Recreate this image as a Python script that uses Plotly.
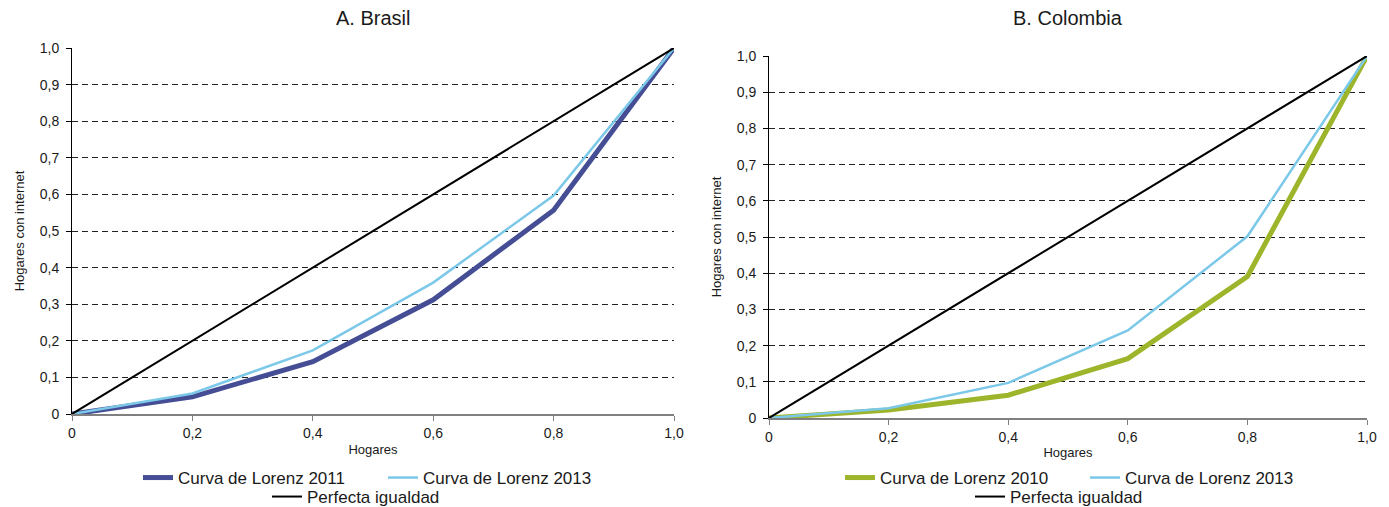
import plotly.graph_objects as go

x_vals = [0, 0.2, 0.4, 0.6, 0.8, 1.0]
brasil_2011 = [0, 0.047, 0.143, 0.312, 0.557, 1.0]
brasil_2013 = [0, 0.056, 0.174, 0.359, 0.597, 1.0]
colombia_2010 = [0, 0.022, 0.063, 0.164, 0.391, 1.0]
colombia_2013 = [0, 0.027, 0.097, 0.242, 0.502, 1.0]
igualdad = [0, 0.2, 0.4, 0.6, 0.8, 1.0]

y_ticks = [0, 0.1, 0.2, 0.3, 0.4, 0.5, 0.6, 0.7, 0.8, 0.9, 1.0]
y_ticktext = ["0", "0,1", "0,2", "0,3", "0,4", "0,5", "0,6", "0,7", "0,8", "0,9", "1,0"]
x_ticks = [0, 0.2, 0.4, 0.6, 0.8, 1.0]
x_ticktext = ["0", "0,2", "0,4", "0,6", "0,8", "1,0"]

NAVY = "#454e95"
LIGHT = "#7cc8e9"
GREEN = "#9cb52b"
BLACK = "#000000"
FONT = "Liberation Sans, Arial, sans-serif"
TXT = "#1a1a1a"

fig = go.Figure()

# Brasil
fig.add_trace(go.Scatter(x=x_vals, y=brasil_2011, mode="lines", name="Curva de Lorenz 2011",
                         line=dict(color=NAVY, width=5), xaxis="x", yaxis="y", legend="legend"))
fig.add_trace(go.Scatter(x=x_vals, y=brasil_2013, mode="lines", name="Curva de Lorenz 2013",
                         line=dict(color=LIGHT, width=2.5), xaxis="x", yaxis="y", legend="legend"))
fig.add_trace(go.Scatter(x=x_vals, y=igualdad, mode="lines", name="Perfecta igualdad",
                         line=dict(color=BLACK, width=2), xaxis="x", yaxis="y", legend="legend2"))
# Colombia
fig.add_trace(go.Scatter(x=x_vals, y=colombia_2010, mode="lines", name="Curva de Lorenz 2010",
                         line=dict(color=GREEN, width=5), xaxis="x2", yaxis="y2", legend="legend3"))
fig.add_trace(go.Scatter(x=x_vals, y=colombia_2013, mode="lines", name="Curva de Lorenz 2013",
                         line=dict(color=LIGHT, width=2.5), xaxis="x2", yaxis="y2", legend="legend3"))
fig.add_trace(go.Scatter(x=x_vals, y=igualdad, mode="lines", name="Perfecta igualdad",
                         line=dict(color=BLACK, width=2), xaxis="x2", yaxis="y2", legend="legend4"))

W, H = 1389, 507
ML, MR, MT, MB = 72, 22, 48, 89
PW = W - ML - MR
PH = H - MT - MB

def px_x(p):
    return (p - ML) / PW

def px_y(p):
    return (H - MB - p) / PH

def cx(p):
    return p / W

def cy(p):
    return 1 - p / H

xaxis_common = dict(range=[0, 1], tickvals=x_ticks, ticktext=x_ticktext, showgrid=False,
                    showline=True, linecolor="#808080", linewidth=2, ticks="outside",
                    ticklen=5, tickcolor="#808080", zeroline=False, automargin=False,
                    tickfont=dict(size=14, color=TXT, family=FONT),
                    title=dict(text="Hogares", font=dict(size=13, color=TXT, family=FONT), standoff=5))
yaxis_common = dict(range=[0, 1], tickvals=y_ticks, ticktext=y_ticktext, showgrid=True,
                    gridcolor="#222222", griddash="6px,4px", gridwidth=1,
                    showline=True, linecolor="#000", linewidth=1, ticks="outside",
                    ticklen=5, tickcolor="#000", zeroline=False, automargin=False,
                    ticklabelstandoff=4,
                    tickfont=dict(size=14, color=TXT, family=FONT),
                    title=dict(text="Hogares con internet", font=dict(size=13, color=TXT, family=FONT), standoff=12))

legend_font = dict(size=17, family=FONT, color=TXT)
leg_common = dict(orientation="h", xref="container", yref="container", xanchor="left",
                  yanchor="middle", font=legend_font, bgcolor="rgba(0,0,0,0)",
                  entrywidth=200, entrywidthmode="pixels")

fig.update_layout(
    width=W, height=H,
    margin=dict(l=ML, r=MR, t=MT, b=MB, autoexpand=False),
    paper_bgcolor="white", plot_bgcolor="white",
    font=dict(family=FONT, color=TXT),
    xaxis=dict(domain=[0, px_x(674)], anchor="y", **xaxis_common),
    yaxis=dict(domain=[px_y(414), px_y(48)], anchor="x", **yaxis_common),
    xaxis2=dict(domain=[px_x(769), 1], anchor="y2", **xaxis_common),
    yaxis2=dict(domain=[px_y(418), px_y(56)], anchor="x2", **yaxis_common),
    legend=dict(x=cx(138), y=cy(478), **leg_common),
    legend2=dict(x=cx(267), y=cy(497), **leg_common),
    legend3=dict(x=cx(840), y=cy(478), **leg_common),
    legend4=dict(x=cx(970), y=cy(497), **leg_common),
    annotations=[
        dict(text="A. Brasil", x=px_x(373), y=px_y(18), xref="paper", yref="paper",
             showarrow=False, font=dict(size=20, family=FONT, color=TXT), xanchor="center", yanchor="middle"),
        dict(text="B. Colombia", x=px_x(1068), y=px_y(18), xref="paper", yref="paper",
             showarrow=False, font=dict(size=20, family=FONT, color=TXT), xanchor="center", yanchor="middle"),
    ],
)

fig.write_html("out.html", config={"displayModeBar": False},
               post_script="document.body.style.margin='0';document.body.style.overflow='hidden';")
